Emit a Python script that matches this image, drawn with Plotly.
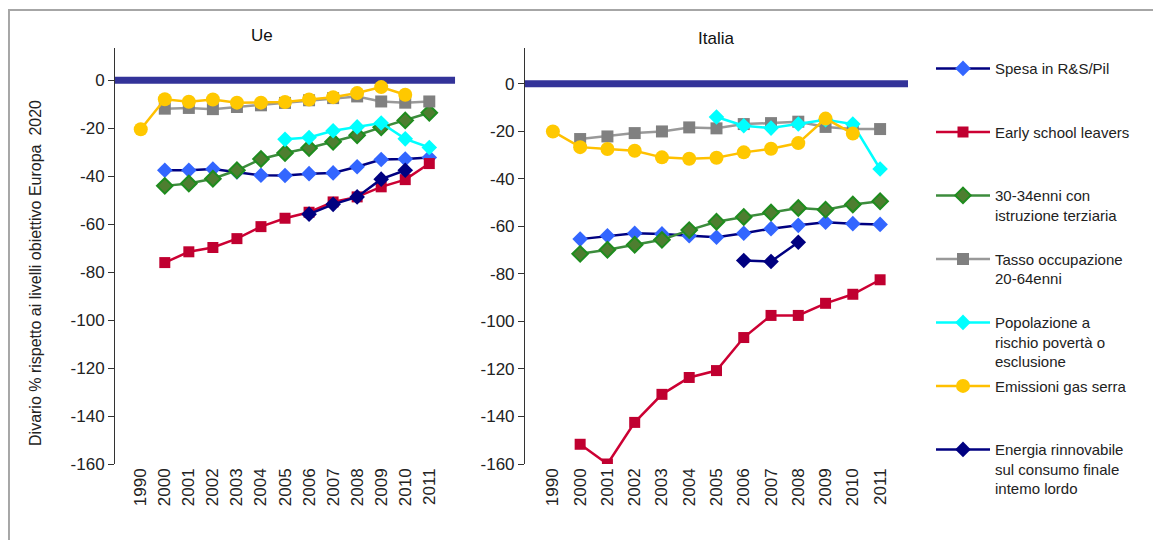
import plotly.graph_objects as go
from plotly.subplots import make_subplots

years = ["1990", "2000", "2001", "2002", "2003", "2004", "2005",
         "2006", "2007", "2008", "2009", "2010", "2011"]

series_names = [
    "Spesa in R&S/Pil",
    "Early school leavers",
    "30-34enni con<br>istruzione terziaria",
    "Tasso occupazione<br>20-64enni",
    "Popolazione a<br>rischio povertà o<br>esclusione",
    "Emissioni gas serra",
    "Energia rinnovabile<br>sul consumo finale<br>intemo lordo",
]

# Ue
ue_spesa = [None, -37.5, -37.5, -37, -38.2, -39.6, -39.7, -38.9, -38.6, -36, -33, -32.8, -32.2]
ue_early = [None, -76, -71.5, -69.7, -66, -61, -57.5, -55, -50.7, -48.6, -44.4, -41.4, -34.7]
ue_terz = [None, -44, -43, -41, -37.5, -32.8, -30.3, -28.2, -25.6, -22.9, -19.6, -16.7, -13.5]
ue_occup = [None, -11.8, -11.5, -12, -11.1, -10.4, -9.4, -8.3, -7.4, -6.7, -8.8, -9.3, -8.8]
ue_pover = [None, None, None, None, None, None, -24.6, -23.8, -21, -19.4, -17.8, -24.4, -28]
ue_emiss = [-20.4, -7.9, -8.9, -8, -9.3, -9.3, -9, -8, -7, -5.3, -2.8, -6, None]
ue_energ = [None, None, None, None, None, None, None, -55.8, -51.7, -48.6, -41.2, -37.5, None]

# Italia
it_spesa = [None, -65.4, -64, -62.9, -63.2, -64, -64.6, -62.9, -61, -59.6, -58.3, -58.9, -59.2]
it_early = [None, -151.7, -160, -142.5, -130.7, -123.6, -120.7, -106.8, -97.5, -97.5, -92.4, -88.6, -82.5]
it_terz = [None, -71.6, -69.9, -67.8, -65.7, -61.6, -58.1, -56.1, -54.2, -52.3, -53, -50.8, -49.5]
it_occup = [None, -23.3, -22.2, -20.8, -20.1, -18.4, -18.8, -17, -16.6, -16, -18.2, -19.1, -19.1]
it_pover = [None, None, None, None, None, None, -14, -17.7, -18.7, -17, -15.2, -17, -35.9]
it_emiss = [-20.1, -26.7, -27.5, -28.2, -31, -31.6, -31.2, -28.9, -27.4, -25, -14.7, -21, None]
it_energ = [None, None, None, None, None, None, None, -74.4, -74.8, -66.7, None, None, None]

ue_data = [ue_spesa, ue_early, ue_terz, ue_occup, ue_pover, ue_emiss, ue_energ]
it_data = [it_spesa, it_early, it_terz, it_occup, it_pover, it_emiss, it_energ]

ytick_vals = [0, -20, -40, -60, -80, -100, -120, -140, -160]
ytick_text = ["0", "-20", "-40", "-60", "-80", "-100", "-120", "-140", "-160"]

styles = [
    dict(line='#000080', marker=dict(symbol='diamond', size=12, color='#3366FF')),
    dict(line='#CC0033', marker=dict(symbol='square', size=11, color='#C00030')),
    dict(line='#3C8C3C', marker=dict(symbol='diamond', size=12, color='#4E7E30',
                                     line=dict(color='#1E8C1E', width=2))),
    dict(line='#999999', marker=dict(symbol='square', size=12, color='#808080')),
    dict(line='#00FFFF', marker=dict(symbol='diamond', size=12, color='#00FFFF')),
    dict(line='#FFC000', marker=dict(symbol='circle', size=14, color='#FFC800')),
    dict(line='#000080', marker=dict(symbol='diamond', size=12, color='#000080')),
]

font = "Liberation Sans, Arial, sans-serif"

fig = make_subplots(rows=1, cols=2, horizontal_spacing=0.0)

for i, name in enumerate(series_names):
    st = styles[i]
    nlines = name.count("<br>") + 1
    label = name + "<br> " * (3 - nlines)
    for col, data in ((1, ue_data[i]), (2, it_data[i])):
        fig.add_trace(go.Scatter(
            x=years, y=data, name=label, mode='lines+markers',
            line=dict(color=st['line'], width=2.5),
            marker=st['marker'],
            legendgroup=f"g{i}", showlegend=(col == 1),
            connectgaps=False,
        ), row=1, col=col)

# page body adds 8px margin, so the figure is 8px smaller than the window
fig.update_layout(
    width=1153, height=532,
    margin=dict(l=107, r=253, t=40, b=76),
    paper_bgcolor='white', plot_bgcolor='white',
    font=dict(family=font, size=16, color='#222222'),
    xaxis=dict(domain=[0, 0.4288]),
    xaxis2=dict(domain=[0.517, 1.0]),
    legend=dict(x=1.029, y=0.99, xanchor='left', yanchor='top',
                valign='top', tracegroupgap=2, itemwidth=54, maxheight=600,
                font=dict(family=font, size=15, color='#222222'),
                bgcolor='rgba(0,0,0,0)'),
)

for ax in ('xaxis', 'xaxis2'):
    fig.layout[ax].update(type='category', showline=False, ticks='', showgrid=False,
                          zeroline=False, tickangle=-90,
                          tickfont=dict(size=17, color='#222222'))

fig.layout.yaxis.update(range=[-160, 13.5])
fig.layout.yaxis2.update(range=[-160, 15])
for ax in ('yaxis', 'yaxis2'):
    fig.layout[ax].update(showline=True, linecolor='#333333', linewidth=1,
                          ticks='outside', ticklen=6, tickcolor='#333333',
                          showgrid=False, zeroline=False,
                          tickvals=ytick_vals, ticktext=ytick_text,
                          tickfont=dict(size=17, color='#222222'))

# target line at 0
for xr, yr in (('x domain', 'y'), ('x2 domain', 'y2')):
    fig.add_shape(type='line', xref=xr, yref=yr, x0=0, x1=1, y0=0, y1=0,
                  line=dict(color='#333399', width=7), layer='below')

# outer frame
fig.add_shape(type='rect', xref='paper', yref='paper',
              x0=-0.1337, x1=1.35, y0=-0.2, y1=1.0913,
              line=dict(color='#A6A6A6', width=2))

fig.add_annotation(text="Ue", xref='paper', yref='paper', x=0.1854, y=1.029,
                   xanchor='center', yanchor='middle',
                   showarrow=False, font=dict(size=17, color='#111111'))
fig.add_annotation(text="Italia", xref='paper', yref='paper', x=0.758, y=1.024,
                   xanchor='center', yanchor='middle',
                   showarrow=False, font=dict(size=17, color='#111111'))
fig.add_annotation(text="Divario % rispetto ai livelli obiettivo Europa  2020",
                   xref='paper', yref='paper', x=-0.101, y=0.459, textangle=-90,
                   xanchor='center', yanchor='middle',
                   showarrow=False, font=dict(size=16, color='#222222'))

fig.write_html("out.html")
